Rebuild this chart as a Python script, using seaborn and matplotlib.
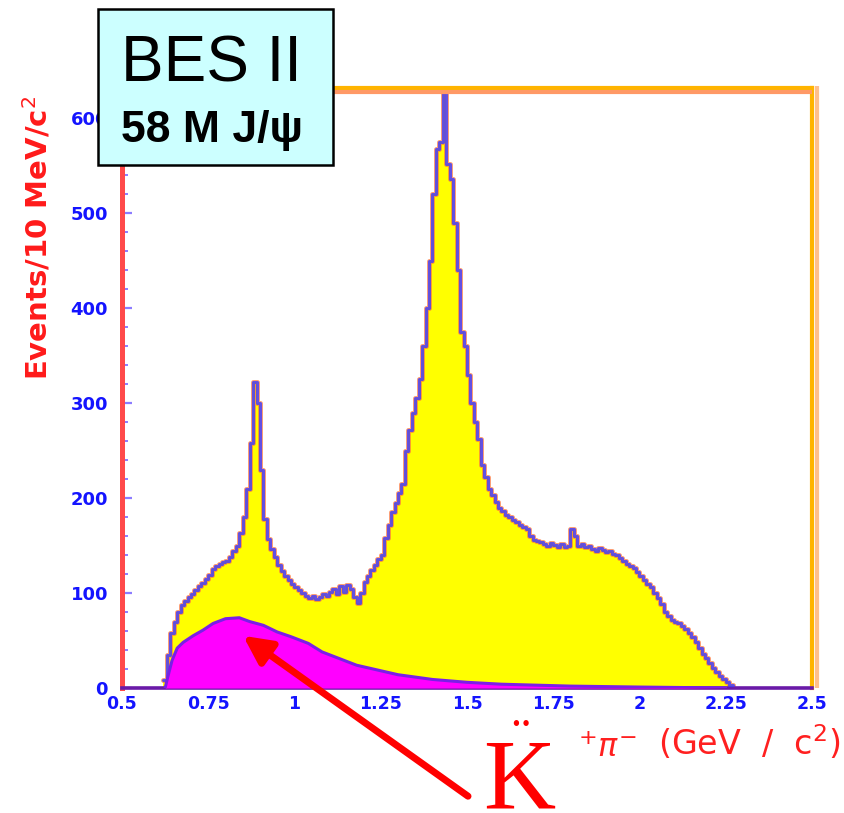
import numpy as np
import pandas as pd
import matplotlib
matplotlib.use("Agg")
import matplotlib.pyplot as plt
from matplotlib.patches import Rectangle
from matplotlib.ticker import MultipleLocator, FixedLocator, FixedFormatter
import seaborn as sns

# K+ pi- invariant mass spectrum, events per 10 MeV/c^2 (first bin starts at 0.62 GeV/c^2)
bin_start = 0.62
bin_width = 0.01
counts = [
    8, 35, 58, 70, 80, 87, 92, 96, 99, 103,            # 0.62 - 0.71
    107, 111, 115, 119, 125, 128, 131, 133, 134, 138,  # 0.72 - 0.81
    144, 150, 163, 180, 210, 258, 322, 300, 230, 178,  # 0.82 - 0.91
    157, 146, 138, 130, 123, 118, 114, 110, 106, 103,  # 0.92 - 1.01
    100, 97, 95, 97, 94, 96, 99, 97, 101, 104,         # 1.02 - 1.11
    99, 107, 101, 108, 104, 96, 90, 100, 112, 118,     # 1.12 - 1.21
    124, 130, 136, 140, 158, 172, 185, 195, 205, 215,  # 1.22 - 1.31
    250, 272, 290, 305, 325, 360, 400, 450, 520, 568,  # 1.32 - 1.41
    575, 628, 552, 536, 490, 440, 375, 360, 330, 300,  # 1.42 - 1.51
    280, 262, 235, 222, 210, 203, 196, 190, 186, 182,  # 1.52 - 1.61
    180, 177, 175, 172, 170, 167, 160, 156, 155, 154,  # 1.62 - 1.71
    152, 150, 153, 151, 148, 152, 149, 150, 168, 160,  # 1.72 - 1.81
    150, 152, 148, 150, 146, 144, 147, 145, 143, 144,  # 1.82 - 1.91
    141, 140, 137, 134, 131, 128, 126, 122, 118, 114,  # 1.92 - 2.01
    110, 106, 100, 95, 88, 80, 76, 72, 70, 68,         # 2.02 - 2.11
    65, 62, 58, 54, 48, 42, 36, 32, 26, 21,            # 2.12 - 2.21
    17, 13, 10, 6, 3,                                  # 2.22 - 2.26
]

# non-resonant K+ pi- background
bg_mass = [0.625, 0.633, 0.645, 0.66, 0.677, 0.706, 0.735, 0.764, 0.80, 0.84,
           0.87, 0.91, 0.95, 0.99, 1.04, 1.08, 1.13, 1.18, 1.24, 1.30,
           1.40, 1.50, 1.60, 1.80, 2.00, 2.25]
bg_counts = [0, 12, 29, 42, 48, 55, 61, 68, 73, 74,
             70, 66, 59, 54, 47, 38, 31, 24, 19, 14,
             9, 6, 4, 2, 1, 0]

x_ticks = [0.5, 0.75, 1.0, 1.25, 1.5, 1.75, 2.0, 2.25, 2.5]
x_tick_labels = ["0.5", "0.75", "1", "1.25", "1.5", "1.75", "2", "2.25", "2.5"]
y_ticks = [0, 100, 200, 300, 400, 500, 600]
y_tick_labels = ["0", "100", "200", "300", "400", "500", "600"]

sns.set_theme(style="white")
plt.rcParams["font.family"] = ["DejaVu Sans"]

n_bins = len(counts)
centers = bin_start + bin_width * (np.arange(n_bins) + 0.5)
df = pd.DataFrame({"mass": centers, "events": counts})
hist_range = (bin_start, bin_start + bin_width * n_bins)

W, H = 845, 813
fig = plt.figure(figsize=(W / 100, H / 100), dpi=100)
fig.patch.set_facecolor("white")
ax = fig.add_axes([122 / W, 1 - 688 / H, 690 / W, 600 / H])
ax.set_facecolor("white")

# total spectrum: yellow filled histogram with data outline
hist_kw = dict(data=df, x="mass", weights="events", binwidth=bin_width,
               binrange=hist_range, element="step", ax=ax)
sns.histplot(fill=True, color="#FFFF00", alpha=1, linewidth=0, zorder=1, **hist_kw)
sns.histplot(fill=False, color="#FF7A3A", alpha=0.7, linewidth=3.6, zorder=2, **hist_kw)
sns.histplot(fill=False, color="#3C3CFF", alpha=0.8, linewidth=2.2, zorder=3, **hist_kw)

# background component
ax.fill_between(bg_mass, bg_counts, color="#FF00FF", linewidth=0, zorder=4)
sns.lineplot(x=bg_mass, y=bg_counts, color="#7A1FE6", linewidth=2.2, ax=ax, zorder=5)

ax.set_xlim(0.5, 2.5)
ax.set_ylim(0, 632)

# axis frame
for side in ("left", "bottom", "top", "right"):
    ax.spines[side].set_visible(True)
ax.spines["left"].set_color("#FF4A4A")
ax.spines["left"].set_linewidth(3.6)
ax.spines["bottom"].set_color("#6A1AA8")
ax.spines["bottom"].set_linewidth(2.6)
ax.spines["top"].set_color("#FFB400")
ax.spines["top"].set_linewidth(3.0)
ax.spines["right"].set_color("#FFB400")
ax.spines["right"].set_linewidth(3.0)
ax.plot([0, 1], [0.9935, 0.9935], transform=ax.transAxes, color="#FF9966",
        lw=3.0, solid_capstyle="butt", zorder=6)
ax.plot([1.0075, 1.0075], [0, 1.004], transform=ax.transAxes, color="#FFBF8C",
        lw=3.0, solid_capstyle="butt", clip_on=False, zorder=6)

ax.xaxis.set_major_locator(FixedLocator(x_ticks))
ax.xaxis.set_major_formatter(FixedFormatter(x_tick_labels))
ax.yaxis.set_major_locator(FixedLocator(y_ticks))
ax.yaxis.set_major_formatter(FixedFormatter(y_tick_labels))
ax.yaxis.set_minor_locator(MultipleLocator(20))
ax.tick_params(axis="y", which="major", direction="in", length=7, width=1.6,
               color="#8C7CFF", left=True, right=False, pad=10,
               labelsize=13, labelcolor="#1414FF")
ax.tick_params(axis="y", which="minor", direction="in", length=4, width=1.4,
               color="#8C7CFF", left=True, right=False)
ax.tick_params(axis="x", which="major", direction="in", length=6, width=1.4,
               color="#8C7CFF", bottom=True, top=False, pad=5,
               labelsize=12.5, labelcolor="#1414FF")
for lab in ax.get_xticklabels() + ax.get_yticklabels():
    lab.set_fontweight("bold")

ax.set_xlabel("")
ax.set_ylabel("Events/10 MeV/c$^{2}$", color="#FF1A1A", fontsize=21,
              fontweight="bold")
ax.yaxis.set_label_coords(-0.123, 0.75)
ax.yaxis.label.set_va("center")

# mass axis title
fig.text(578 / W, 1 - 757 / H, r"$^{+}\pi^{-}$", color="#FF2020",
         fontsize=23, ha="left", va="baseline")
fig.text(658 / W, 1 - 755 / H, "(GeV  /  c$^{2}$)", color="#FF2020",
         fontsize=24, ha="left", va="baseline")
fig.text(483 / W, 1 - 807 / H, "K", color="#FF0000", fontsize=72,
         family="Liberation Serif", ha="left", va="baseline")
fig.text(521 / W, 1 - 757 / H, "\u00a8", color="#FF0000", fontsize=40,
         family="Liberation Serif", ha="center", va="baseline")

# arrow pointing at the background component
ax.annotate("", xy=(0.851, 55), xytext=(1.503, -114), xycoords="data",
            textcoords="data", annotation_clip=False, zorder=8,
            arrowprops=dict(arrowstyle="-|>", color="#FF0000", lw=5,
                            mutation_scale=42, shrinkA=0, shrinkB=0))

# experiment label box
fig.add_artist(Rectangle((98 / W, 1 - 165 / H), 235 / W, 156 / H,
                         transform=fig.transFigure, facecolor="#CCFFFF",
                         edgecolor="black", linewidth=1.8, zorder=10))
fig.text(121 / W, 1 - 82 / H, "BES II", fontsize=46, family="Liberation Sans",
         color="black", ha="left", va="baseline", zorder=11)
fig.text(121 / W, 1 - 142 / H, "58 M J/\u03c8", fontsize=32, fontweight="bold",
         family="Liberation Sans", color="black", ha="left", va="baseline",
         zorder=11)

fig.savefig("out.png", dpi=100, facecolor="white")
